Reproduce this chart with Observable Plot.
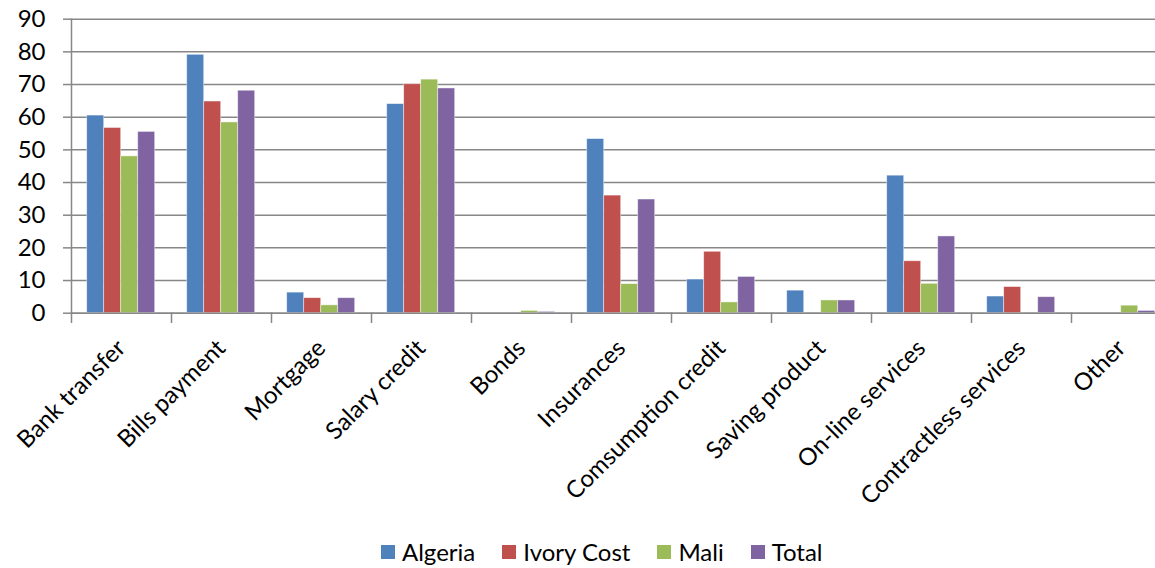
<!DOCTYPE html>
<html>
<head>
<meta charset="utf-8">
<script src="https://cdn.jsdelivr.net/npm/d3@7"></script>
<script src="https://cdn.jsdelivr.net/npm/@observablehq/plot@0.6"></script>
<style>
  html, body { margin: 0; padding: 0; background: #fff; overflow: hidden; }
  #wrap { position: relative; width: 1155px; height: 568px; overflow: hidden; }
  #chart { position: absolute; left: 0; top: 0; width: 1175px; }
  #chart svg { max-width: none !important; }
  #legend {
    position: absolute; left: 381px; top: 537px;
    display: flex; align-items: center;
    font-family: Lato, "Open Sans", sans-serif; font-size: 24px; color: #000;
  }
  .item { display: flex; align-items: center; margin-right: 27px; }
  .swatch { width: 14px; height: 14px; margin-right: 7px; }
</style>
</head>
<body>
<div id="wrap">
  <div id="chart"></div>
  <div id="legend"></div>
</div>
<script>
// Banking services used, share of respondents (%) by country
const categories = [
  "Bank transfer", "Bills payment", "Mortgage", "Salary credit", "Bonds",
  "Insurances", "Comsumption credit", "Saving product", "On-line services",
  "Contractless services", "Other"
];
const seriesNames = ["Algeria", "Ivory Cost", "Mali", "Total"];
const seriesColors = ["#4F81BD", "#C0504D", "#9BBB59", "#8064A2"];

const algeria   = [60.5, 79.1, 6.3, 64.0, 0,   53.3, 10.3, 6.9, 42.1, 5.1, 0];
const ivoryCost = [56.7, 64.8, 4.6, 70.1, 0,   36.0, 18.8, 0,   15.9, 8.0, 0];
const mali      = [48.0, 58.4, 2.4, 71.5, 0.7, 8.9,  3.3,  3.9, 9.0,  0,   2.3];
const total     = [55.5, 68.1, 4.6, 68.8, 0.4, 34.8, 11.1, 3.9, 23.5, 4.9, 0.7];

const yTicks = [0, 10, 20, 30, 40, 50, 60, 70, 80, 90];

// long table: one row per category × series
const seriesValues = [algeria, ivoryCost, mali, total];
const rows = [];
categories.forEach((c, i) => {
  seriesNames.forEach((s, j) => {
    rows.push({category: c, series: s, value: seriesValues[j][i]});
  });
});

const W = 1175, H = 530;
const mTop = 18.7, mBottom = 217.3, mLeft = 71.3, mRight = 3.7;
const gridColor = "#878787";

const chart = Plot.plot({
  width: W,
  height: H,
  marginTop: mTop,
  marginBottom: mBottom,
  marginLeft: mLeft,
  marginRight: mRight,
  style: {fontFamily: "Lato, 'Open Sans', sans-serif", fontSize: "24px", color: "#000", background: "transparent", maxWidth: "none"},
  fx: {domain: categories, padding: 0, label: null},
  x: {domain: seriesNames, paddingInner: 0, paddingOuter: 0.78, axis: null},
  y: {domain: [0, 90], label: null},
  color: {domain: seriesNames, range: seriesColors},
  marks: [
    Plot.gridY(yTicks, {stroke: gridColor, strokeOpacity: 1, strokeWidth: 1.5}),
    Plot.axisY(yTicks, {tickSize: 8, tickPadding: 18, stroke: gridColor, strokeWidth: 1.5, label: null, fontSize: 24}),
    Plot.axisFx({anchor: "bottom", tickRotate: -45, tickSize: 0, tickPadding: 31, label: null, fontSize: 24}),
    Plot.barY(rows.filter(d => d.value > 0), {
      fx: "category", x: "series", y: "value", fill: "series",
      stroke: "#fff", strokeOpacity: 0.55, strokeWidth: 0.8
    }),
    Plot.ruleY([0], {stroke: gridColor, strokeWidth: 1.5}),
    // value axis line on the leftmost category
    Plot.frame({anchor: "left", facetAnchor: "left", stroke: gridColor, strokeWidth: 1.5}),
    // category boundary ticks below the baseline
    Plot.frame({anchor: "left", stroke: gridColor, strokeWidth: 1.5, insetTop: H - mTop - mBottom, insetBottom: -9})
  ]
});
chart.style.maxWidth = "none";
document.getElementById("chart").appendChild(chart);

// legend
const legend = document.getElementById("legend");
seriesNames.forEach((s, i) => {
  const item = document.createElement("div");
  item.className = "item";
  const sw = document.createElement("div");
  sw.className = "swatch";
  sw.style.background = seriesColors[i];
  const label = document.createElement("span");
  label.textContent = s;
  item.appendChild(sw);
  item.appendChild(label);
  legend.appendChild(item);
});
</script>
</body>
</html>
